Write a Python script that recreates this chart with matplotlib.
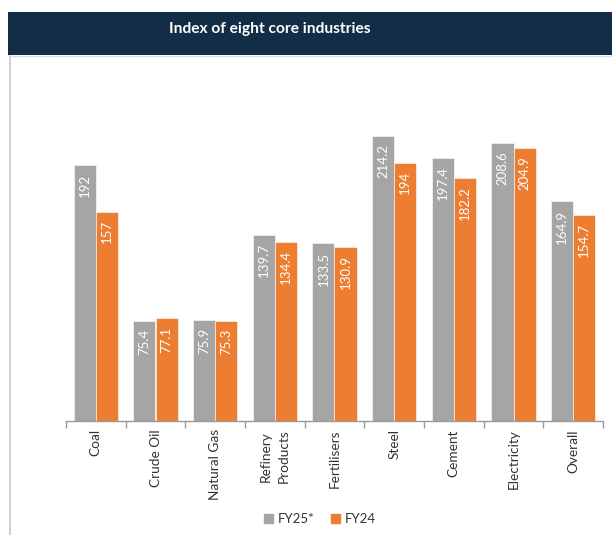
import matplotlib
matplotlib.use("Agg")
import matplotlib.pyplot as plt
from matplotlib.patches import Rectangle
from matplotlib.lines import Line2D
import numpy as np

plt.rcParams['font.family'] = ['Lato', 'DejaVu Sans']

categories = ["Coal", "Crude Oil", "Natural Gas", "Refinery\nProducts", "Fertilisers",
              "Steel", "Cement", "Electricity", "Overall"]
fy25 = [192, 75.4, 75.9, 139.7, 133.5, 214.2, 197.4, 208.6, 164.9]
fy24 = [157, 77.1, 75.3, 134.4, 130.9, 194, 182.2, 204.9, 154.7]
fy25_labels = ["192", "75.4", "75.9", "139.7", "133.5", "214.2", "197.4", "208.6", "164.9"]
fy24_labels = ["157", "77.1", "75.3", "134.4", "130.9", "194", "182.2", "204.9", "154.7"]
series_names = ["FY25*", "FY24"]
title = "Index of eight core industries"

GREY = "#a5a5a5"
ORANGE = "#ed7d31"
NAVY = "#142d47"

W, H = 612, 535
fig = plt.figure(figsize=(W / 100, H / 100), dpi=100)

# title bar
fig.patches.append(Rectangle((8 / W, 1 - 55 / H), 1 - 8 / W, 43 / H, transform=fig.transFigure,
                             facecolor=NAVY, edgecolor="none", zorder=0))
fig.text(270 / W, 1 - 29 / H, title, color="white", fontsize=11.2,
         fontweight="bold", ha="center", va="center")
# left border of panel
fig.add_artist(Line2D([9.5 / W, 9.5 / W], [0, 1 - 56 / H], transform=fig.transFigure,
                      color="#c8c8c8", lw=1.2))
fig.add_artist(Line2D([9.5 / W, 1], [1 - 56 / H, 1 - 56 / H], transform=fig.transFigure,
                      color="#d8dee6", lw=1.0))

ax = fig.add_axes([66 / W, 1 - 421 / H, (603 - 66) / W, (421 - 60) / H])
x = np.arange(len(categories))
bw = 0.37
b1 = ax.bar(x - bw / 2, fy25, bw, color=GREY, label=series_names[0], edgecolor="white", linewidth=0.4)
b2 = ax.bar(x + bw / 2, fy24, bw, color=ORANGE, label=series_names[1], edgecolor="white", linewidth=0.4)

for bars, labels in ((b1, fy25_labels), (b2, fy24_labels)):
    for r, lab in zip(bars, labels):
        ax.annotate(lab, (r.get_x() + r.get_width() / 2, r.get_height()),
                    xytext=(0, -6), textcoords="offset points", rotation=90,
                    ha="center", va="top", color="white", fontsize=9.5)

ax.set_xlim(-0.5, len(categories) - 0.5)
ax.set_ylim(0, 271)
ax.set_yticks([])
for s in ("left", "right", "top"):
    ax.spines[s].set_visible(False)
ax.spines["bottom"].set_color("#9a9a9a")
ax.spines["bottom"].set_linewidth(1.0)

ax.set_xticks(x)
ax.set_xticklabels(categories, rotation=90, fontsize=9.8, color="#333333", va="top",
                   ha="center", linespacing=1.6)
ax.tick_params(axis="x", length=0, pad=6)
ax.set_xticks(np.arange(-0.5, len(categories)), minor=True)
ax.tick_params(axis="x", which="minor", length=5, color="#9a9a9a", width=1.0)

handles = [Rectangle((0, 0), 1, 1, color=GREY), Rectangle((0, 0), 1, 1, color=ORANGE)]
fig.legend(handles, series_names, loc="center", bbox_to_anchor=(320 / W, 1 - 519 / H),
           ncol=2, frameon=False, fontsize=9.5, handlelength=0.7, handleheight=0.7,
           handletextpad=0.4, columnspacing=1.2, labelcolor="#333333")

fig.savefig("out.png", dpi=100, facecolor="white")
